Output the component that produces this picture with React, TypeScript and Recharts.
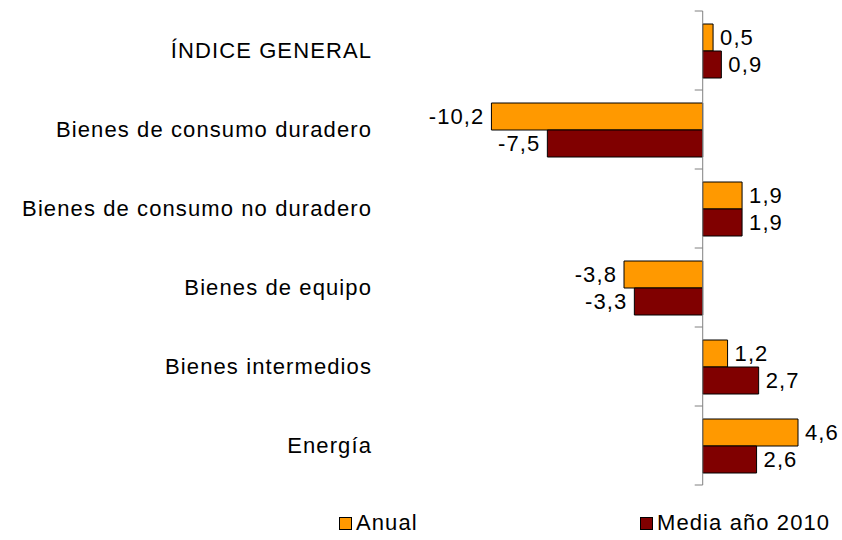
import { BarChart, Bar, XAxis, YAxis, ReferenceLine, LabelList, Legend } from "recharts"

const categories = [
  "ÍNDICE GENERAL",
  "Bienes de consumo duradero",
  "Bienes de consumo no duradero",
  "Bienes de equipo",
  "Bienes intermedios",
  "Energía",
]
const anual = [0.5, -10.2, 1.9, -3.8, 1.2, 4.6]
const media2010 = [0.9, -7.5, 1.9, -3.3, 2.7, 2.6]
const seriesNames = ["Anual", "Media año 2010"]
const seriesColors = ["#FF9900", "#800000"]

const data = categories.map((name, i) => ({ name, anual: anual[i], media: media2010[i] }))

const W = 842
const H = 540
const LEGEND_H = 30
const MARGIN = { top: 11, right: 15, bottom: 55 - LEGEND_H, left: 0 }
const Y_AXIS_W = 392
const DOMAIN: [number, number] = [-15, 6]
const FONT = "'Liberation Sans', Arial, sans-serif"
const FONT_SIZE = 22
const SPACING = 1.1

const plotW = W - MARGIN.left - Y_AXIS_W - MARGIN.right
const plotH = H - MARGIN.top - MARGIN.bottom - LEGEND_H
const band = plotH / categories.length
const zeroX = MARGIN.left + Y_AXIS_W + ((0 - DOMAIN[0]) / (DOMAIN[1] - DOMAIN[0])) * plotW

const fmt = (v: number) => v.toFixed(1).replace(".", ",")

function CategoryTick({ y, payload, index }: any) {
  return (
    <g>
      <text
        x={372}
        y={y}
        dy="0.35em"
        textAnchor="end"
        fontSize={FONT_SIZE}
        letterSpacing={SPACING}
        fill="#000"
        fontFamily={FONT}
      >
        {payload.value}
      </text>
      {index === 0 && (
        <line x1={zeroX - 8} x2={zeroX} y1={y - band / 2} y2={y - band / 2} stroke="#808080" />
      )}
      <line x1={zeroX - 8} x2={zeroX} y1={y + band / 2} y2={y + band / 2} stroke="#808080" />
    </g>
  )
}

function ValueLabel({ x, y, width, height, value }: any) {
  const left = Math.min(x, x + width)
  const right = Math.max(x, x + width)
  const neg = value < 0
  return (
    <text
      x={neg ? left - 7 : right + 7}
      y={y + height / 2}
      dy="0.35em"
      textAnchor={neg ? "end" : "start"}
      fontSize={FONT_SIZE}
      letterSpacing={SPACING}
      fill="#000"
      fontFamily={FONT}
    >
      {fmt(value)}
    </text>
  )
}

function LegendBox() {
  const lefts = [339, 640]
  return (
    <div style={{ position: "relative", width: W, height: LEGEND_H }}>
      {seriesNames.map((n, i) => (
        <div
          key={n}
          style={{
            position: "absolute",
            left: lefts[i],
            top: 0,
            display: "flex",
            alignItems: "center",
            fontFamily: FONT,
            fontSize: FONT_SIZE,
            letterSpacing: SPACING,
            lineHeight: "26px",
          }}
        >
          <span
            style={{
              display: "inline-block",
              width: 11,
              height: 11,
              background: seriesColors[i],
              border: "1px solid #000",
              marginRight: 4,
            }}
          />
          {n}
        </div>
      ))}
    </div>
  )
}

export default function App() {
  return (
    <div style={{ position: "absolute", left: 0, top: 0, background: "#fff" }}>
      <BarChart
        width={W}
        height={H}
        data={data}
        layout="vertical"
        margin={MARGIN}
        barGap={0}
        barSize={27}
      >
        <XAxis type="number" domain={DOMAIN} hide />
        <YAxis
          type="category"
          dataKey="name"
          width={Y_AXIS_W}
          axisLine={false}
          tickLine={false}
          tick={<CategoryTick />}
          interval={0}
        />
        <ReferenceLine x={0} stroke="#808080" />
        <Bar dataKey="anual" name={seriesNames[0]} fill={seriesColors[0]} stroke="#000" strokeWidth={1} isAnimationActive={false}>
          <LabelList dataKey="anual" content={<ValueLabel />} />
        </Bar>
        <Bar dataKey="media" name={seriesNames[1]} fill={seriesColors[1]} stroke="#000" strokeWidth={1} isAnimationActive={false}>
          <LabelList dataKey="media" content={<ValueLabel />} />
        </Bar>
        <Legend content={<LegendBox />} wrapperStyle={{ left: 0, top: 510, width: W, height: LEGEND_H }} />
      </BarChart>
    </div>
  )
}
